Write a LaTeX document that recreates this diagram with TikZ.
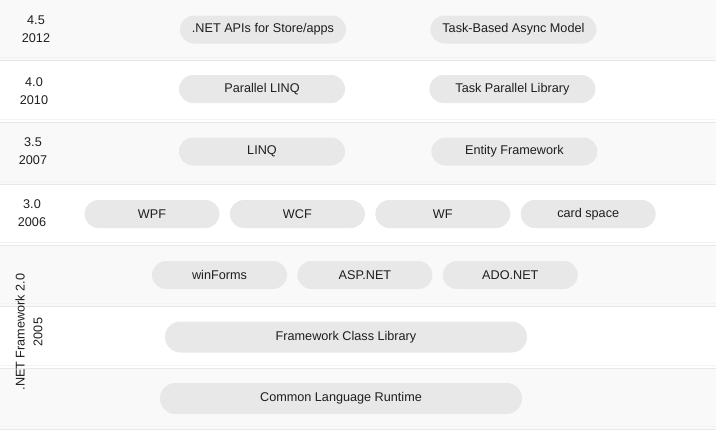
\documentclass[tikz,border=0pt]{standalone}
\usepackage{fontspec}
\setmainfont{Liberation Sans}
\usepackage{xcolor}
\usepackage{tikz}
\usetikzlibrary{positioning}
\definecolor{filagris}{HTML}{F9F9F9}
\definecolor{lineagris}{HTML}{E8E8E8}
\definecolor{lineaclara}{HTML}{F3F3F3}
\definecolor{grisbloque}{HTML}{E8E8E8}
\definecolor{texto}{HTML}{1E1E1E}

\begin{document}
\begin{tikzpicture}[x=1bp, y=-1bp, node distance=10bp,
  font=\fontsize{12.7}{18}\selectfont, text=texto,
  bloque/.style={fill=grisbloque, rounded corners=14bp, minimum height=28bp, inner sep=0pt},
  corto/.style={bloque, minimum width=135bp},
  medio/.style={bloque, minimum width=166bp},
  largo/.style={bloque, minimum width=362bp, minimum height=31bp, rounded corners=15.5bp},
  version/.style={align=center}]
\useasboundingbox (0,0) rectangle (716,431);
% Filas
\foreach \ya/\yb in {0/60, 122/184, 245/306, 368/429}
  \fill[filagris] (0,\ya) rectangle (716,\yb);
\foreach \y in {60,122,184,245,306,368,429} {
  \draw[lineaclara, line width=0.8bp] (0,\y-3) -- (716,\y-3);
  \draw[lineagris, line width=1bp] (0,\y) -- (716,\y);
}

% Versiones
\node[version] (v45) at (36,29) {4.5\\2012};
\node[version] (v40) at (34,91) {4.0\\2010};
\node[version] (v35) at (33,151) {3.5\\2007};
\node[version] (v30) at (32,213) {3.0\\2006};
\node[version, rotate=90] (v20) at (29,332) {.NET Framework 2.0\\2005};

% Bloques
\node[medio] (apis) at (263,29.5) {.NET APIs for Store/apps};
\node[medio, right=84bp of apis] (async) {Task-Based Async Model};
\node[medio] (plinq) at (262,89) {Parallel LINQ};
\node[medio, right=84bp of plinq] (tpl) {Task Parallel Library};
\node[medio] (linq) at (262,151.5) {LINQ};
\node[medio, right=86bp of linq] (ef) {Entity Framework};
\node[corto] (wpf) at (152,214) {WPF};
\node[corto, right=of wpf] (wcf) {WCF};
\node[corto, right=of wcf] (wf) {WF};
\node[corto, right=of wf] (card) {card space};
\node[corto] (winforms) at (219.5,275) {winForms};
\node[corto, right=of winforms] (asp) {ASP.NET};
\node[corto, right=of asp] (ado) {ADO.NET};
\node[largo] (fcl) at (346,337) {Framework Class Library};
\node[largo] (clr) at (341,398.5) {Common Language Runtime};
\end{tikzpicture}
\end{document}
